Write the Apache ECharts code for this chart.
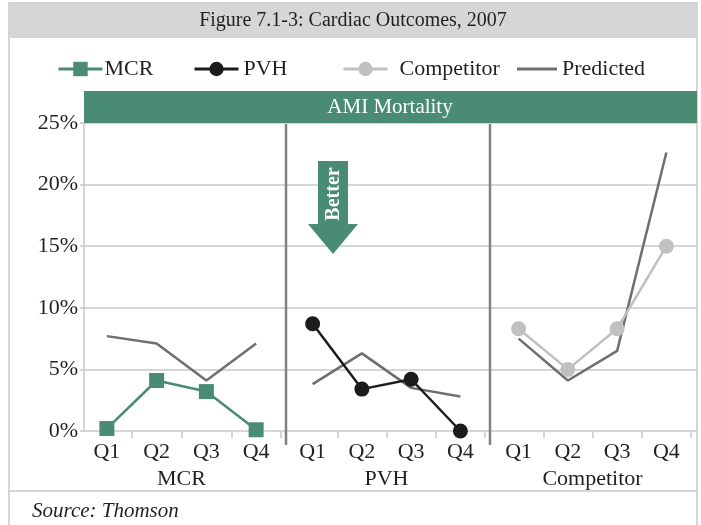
<!DOCTYPE html>
<html>
<head>
<meta charset="utf-8">
<title>Cardiac Outcomes, 2007</title>
<script src="https://cdn.jsdelivr.net/npm/echarts@6/dist/echarts.min.js"></script>
<style>
  html, body { margin: 0; padding: 0; background: #fff; }
  #chart { width: 701px; height: 525px; }
</style>
</head>
<body>
<div id="chart"></div>
<script>
// values, in percent
const quarters = ['Q1', 'Q2', 'Q3', 'Q4'];
const groups = ['MCR', 'PVH', 'Competitor'];
const mcrValues = [0.2, 4.1, 3.2, 0.1];
const pvhValues = [8.7, 3.4, 4.2, 0];
const competitorValues = [8.3, 5.0, 8.3, 15.0];
const predictedMCR = [7.7, 7.1, 4.1, 7.1];
const predictedPVH = [3.8, 6.3, 3.5, 2.8];
const predictedCompetitor = [7.5, 4.1, 6.5, 22.6];
const yMax = 25;
const yStep = 5;

const FONT = 'Liberation Serif';
const INK = '#231f20';
const GREEN = '#4a8b73';
const GRID_GRAY = '#c8c8c8';
const PRED_GRAY = '#6e6e6e';

const chart = echarts.init(document.getElementById('chart'), null, { renderer: 'canvas' });

const plotTop = 123, plotHeight = 308;
// background grid carries the y axis and the horizontal rules, panels carry the quarters
const panels = [
  { left: 82, width: 199 },
  { left: 288, width: 197 },
  { left: 494, width: 197 }
];

const grid = [{ left: 84, top: plotTop, width: 613, height: plotHeight }]
  .concat(panels.map(p => ({ left: p.left, top: plotTop, width: p.width, height: plotHeight })));

const xAxis = [{ gridIndex: 0, type: 'value', min: 0, max: 1, show: false }]
  .concat(groups.map((g, i) => ({
    gridIndex: i + 1,
    type: 'category',
    data: quarters,
    name: g,
    nameLocation: 'middle',
    nameGap: 37,
    nameTextStyle: { fontFamily: FONT, fontSize: 22, color: INK },
    axisLine: { show: false },
    axisTick: {
      show: true,
      interval: idx => idx > 0,
      length: 7,
      lineStyle: { color: GRID_GRAY, width: 1.5 }
    },
    axisLabel: { margin: 10, fontFamily: FONT, fontSize: 22, color: INK },
    splitLine: { show: false }
  })));

const yAxis = [{
  gridIndex: 0,
  type: 'value',
  min: 0,
  max: yMax,
  interval: yStep,
  axisLine: { show: true, lineStyle: { color: GRID_GRAY, width: 1.5 } },
  axisTick: { show: true, length: 4, lineStyle: { color: GRID_GRAY, width: 1.5 } },
  axisLabel: { formatter: '{value}%', margin: 6, fontFamily: FONT, fontSize: 22, color: INK },
  splitLine: { show: true, lineStyle: { color: GRID_GRAY, width: 1.5 } }
}].concat(groups.map((g, i) => ({
  gridIndex: i + 1, type: 'value', min: 0, max: yMax, interval: yStep, show: false
})));

function predicted(data, i) {
  return {
    name: 'Predicted', type: 'line', xAxisIndex: i, yAxisIndex: i, data,
    symbol: 'none', clip: false, z: 2,
    lineStyle: { color: PRED_GRAY, width: 2.5 }, itemStyle: { color: PRED_GRAY }
  };
}

function actual(name, data, i, color, symbol) {
  return {
    name, type: 'line', xAxisIndex: i, yAxisIndex: i, data,
    symbol, symbolSize: 15, showSymbol: true, clip: false, z: 3,
    lineStyle: { color, width: 2.5 }, itemStyle: { color, opacity: 1 }
  };
}

const series = [
  predicted(predictedMCR, 1),
  predicted(predictedPVH, 2),
  predicted(predictedCompetitor, 3),
  actual('MCR', mcrValues, 1, GREEN, 'rect'),
  actual('PVH', pvhValues, 2, '#1c1c1c', 'circle'),
  actual('Competitor', competitorValues, 3, '#c0c0c0', 'circle')
];

function legendItem(name, left, extra) {
  return Object.assign({
    data: [name], left, top: 53, itemWidth: 44, itemHeight: 18,
    selectedMode: false,
    lineStyle: { width: 3 },
    textStyle: { fontFamily: FONT, fontSize: 22, color: INK }
  }, extra || {});
}

const graphic = [
  // frame, title band, rules
  { type: 'rect', z: -10, shape: { x: 9, y: 3, width: 688, height: 540 },
    style: { fill: '#fff', stroke: GRID_GRAY, lineWidth: 1.5 } },
  { type: 'rect', z: -9, shape: { x: 9, y: 3, width: 688, height: 35 }, style: { fill: '#d6d6d6' } },
  { type: 'text', z: 5, x: 353, y: 21,
    style: { text: 'Figure 7.1-3: Cardiac Outcomes, 2007', font: '20px "Liberation Serif"', fill: INK,
      align: 'center', verticalAlign: 'middle' } },
  { type: 'rect', z: 5, shape: { x: 84, y: 91, width: 613, height: 32 }, style: { fill: GREEN } },
  { type: 'text', z: 6, x: 390, y: 107,
    style: { text: 'AMI Mortality', font: '21px "Liberation Serif"', fill: '#fff',
      align: 'center', verticalAlign: 'middle' } },
  { type: 'line', z: 5, shape: { x1: 286, y1: 124, x2: 286, y2: 445 },
    style: { stroke: '#808080', lineWidth: 2.5 } },
  { type: 'line', z: 5, shape: { x1: 490, y1: 124, x2: 490, y2: 445 },
    style: { stroke: '#808080', lineWidth: 2.5 } },
  { type: 'line', z: 5, shape: { x1: 9, y1: 491, x2: 697, y2: 491 },
    style: { stroke: GRID_GRAY, lineWidth: 1.5 } },
  { type: 'text', z: 5, x: 32, y: 511,
    style: { text: 'Source: Thomson', font: 'italic 21px "Liberation Serif"', fill: INK,
      align: 'left', verticalAlign: 'middle' } },
  // "Better" arrow
  { type: 'polygon', z: 6,
    shape: { points: [[318, 161], [348, 161], [348, 224], [358, 224], [333, 254], [308, 224], [318, 224]] },
    style: { fill: GREEN } },
  { type: 'text', z: 7, x: 334, y: 194, rotation: Math.PI / 2,
    style: { text: 'Better', font: 'bold 20px "Liberation Serif"', fill: '#fff',
      align: 'center', verticalAlign: 'middle' } }
];

chart.setOption({
  animation: false,
  backgroundColor: '#fff',
  grid,
  xAxis,
  yAxis,
  series,
  legend: [
    legendItem('MCR', 52, { textStyle: { fontFamily: FONT, fontSize: 22, color: INK, padding: [0, 0, 0, -3] } }),
    legendItem('PVH', 188),
    legendItem('Competitor', 337, { textStyle: { fontFamily: FONT, fontSize: 22, color: INK, padding: [0, 0, 0, 7] } }),
    legendItem('Predicted', 512, {
      itemWidth: 40, itemHeight: 3,
      data: [{ name: 'Predicted', icon: 'rect' }]
    })
  ],
  graphic
});
</script>
</body>
</html>
